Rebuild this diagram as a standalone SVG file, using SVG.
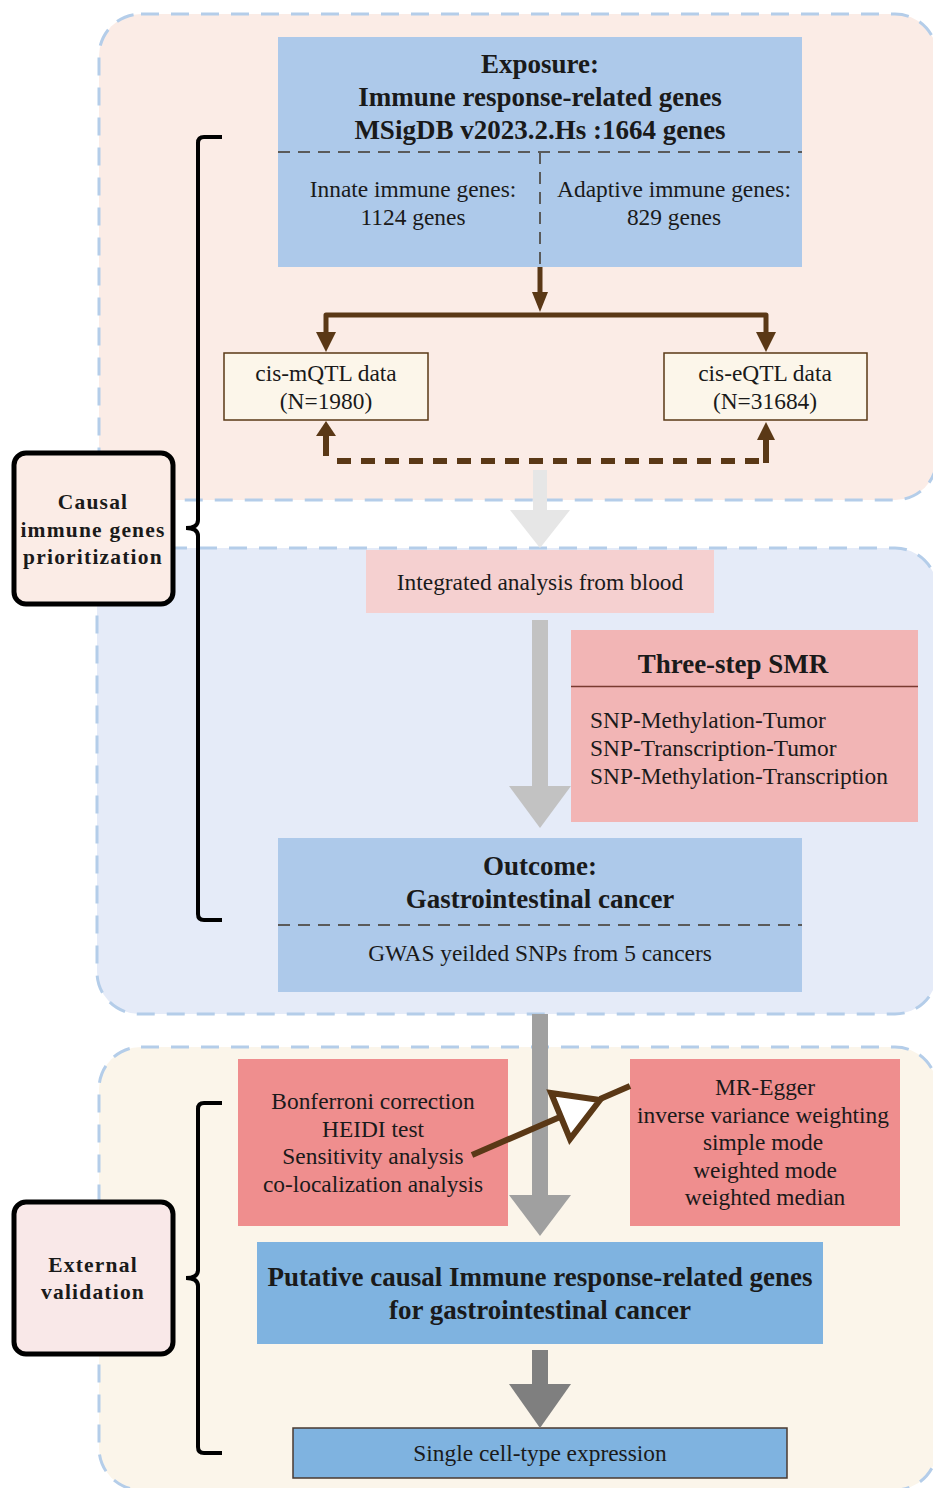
<svg xmlns="http://www.w3.org/2000/svg" width="933" height="1488" viewBox="0 0 933 1488">
<defs>
<style>
text{font-family:"Liberation Serif","Times New Roman",serif;fill:#1a1a1a;text-anchor:middle}
.b{font-weight:bold;font-size:27px}
.n{font-size:23.4px}
.lab{font-weight:bold;font-size:21.5px;letter-spacing:1.2px}
.panel{stroke:#b4cde9;stroke-width:3;stroke-dasharray:18 12}
.brn{stroke:#5a3816;fill:none}
.brace{stroke:#000;stroke-width:4;fill:none}
.dash{stroke:#5a5a5a;stroke-width:2;stroke-dasharray:12 8}
</style>
</defs>

<g id="panels">
<rect class="panel" x="99" y="14" width="838" height="486" rx="42" fill="#fbece6"/>
<rect class="panel" x="97" y="548" width="840" height="466" rx="42" fill="#e5ebf8"/>
<rect class="panel" x="99" y="1047" width="838" height="443" rx="42" fill="#fbf5ea"/>
</g>

<g id="exposure">
<rect x="278" y="37" width="524" height="230" fill="#adc9ea"/>
<line class="dash" x1="278" y1="152" x2="802" y2="152"/>
<line class="dash" x1="540" y1="152" x2="540" y2="267"/>
<text class="b" x="540" y="73">Exposure:</text>
<text class="b" x="540" y="106">Immune response-related genes</text>
<text class="b" x="540" y="139">MSigDB v2023.2.Hs :1664 genes</text>
<text class="n" x="413" y="197">Innate immune genes:</text>
<text class="n" x="413" y="225">1124 genes</text>
<text class="n" x="674" y="197">Adaptive immune genes:</text>
<text class="n" x="674" y="225">829 genes</text>
</g>

<g id="mqtl">
<rect x="224" y="353" width="204" height="67" fill="#fcf6ea" stroke="#5a3816" stroke-width="1.5"/>
<text class="n" x="326" y="381">cis-mQTL data</text>
<text class="n" x="326" y="409">(N=1980)</text>
</g>

<g id="eqtl">
<rect x="664" y="353" width="203" height="67" fill="#fcf6ea" stroke="#5a3816" stroke-width="1.5"/>
<text class="n" x="765" y="381">cis-eQTL data</text>
<text class="n" x="765" y="409">(N=31684)</text>
</g>

<g id="integrated">
<rect x="366" y="550" width="348" height="63" fill="#f5d0d0"/>
<text class="n" x="540" y="590">Integrated analysis from blood</text>
</g>

<g id="smr">
<rect x="571" y="630" width="347" height="192" fill="#f2b5b5"/>
<line x1="571" y1="686.5" x2="918" y2="686.5" stroke="#7a3a30" stroke-width="1.5"/>
<text class="b" x="733" y="673">Three-step SMR</text>
<text class="n" x="590" y="728" style="text-anchor:start">SNP-Methylation-Tumor</text>
<text class="n" x="590" y="756" style="text-anchor:start">SNP-Transcription-Tumor</text>
<text class="n" x="590" y="784" style="text-anchor:start">SNP-Methylation-Transcription</text>
</g>

<g id="outcome">
<rect x="278" y="838" width="524" height="154" fill="#adc9ea"/>
<line class="dash" x1="278" y1="925" x2="802" y2="925"/>
<text class="b" x="540" y="875">Outcome:</text>
<text class="b" x="540" y="908">Gastrointestinal cancer</text>
<text class="n" x="540" y="961">GWAS yeilded SNPs from 5 cancers</text>
</g>

<g id="bonferroni">
<rect x="238" y="1059" width="270" height="167" fill="#ef8e8e"/>
<text class="n" x="373" y="1109">Bonferroni correction</text>
<text class="n" x="373" y="1137">HEIDI test</text>
<text class="n" x="373" y="1164">Sensitivity analysis</text>
<text class="n" x="373" y="1192">co-localization analysis</text>
</g>

<g id="mregger">
<rect x="630" y="1059" width="270" height="167" fill="#ef8e8e"/>
<text class="n" x="765" y="1095">MR-Egger</text>
<text class="n" x="763" y="1123">inverse variance weighting</text>
<text class="n" x="763" y="1150">simple mode</text>
<text class="n" x="765" y="1178">weighted mode</text>
<text class="n" x="765" y="1205">weighted median</text>
</g>

<g id="putative">
<rect x="257" y="1242" width="566" height="102" fill="#7fb3e0"/>
<text class="b" x="540" y="1286">Putative causal Immune response-related genes</text>
<text class="b" x="540" y="1319">for gastrointestinal cancer</text>
</g>

<g id="singlecell">
<rect x="293" y="1428" width="494" height="50" fill="#7fb3e0" stroke="#4a3a30" stroke-width="1.5"/>
<text class="n" x="540" y="1461">Single cell-type expression</text>
</g>

<g id="causal-label">
<path class="brace" d="M222,137 L204,137 Q198,137 198,143 L198,520 Q198,528 186,528 Q198,528 198,536 L198,914 Q198,920 204,920 L222,920"/>
<rect x="14" y="453" width="159" height="151" rx="12" fill="#fbece6" stroke="#000" stroke-width="5"/>
<text class="lab" x="93" y="509">Causal</text>
<text class="lab" x="93" y="537">immune genes</text>
<text class="lab" x="93" y="564">prioritization</text>
</g>

<g id="external-label">
<path class="brace" d="M222,1103 L204,1103 Q198,1103 198,1109 L198,1270 Q198,1278 186,1278 Q198,1278 198,1286 L198,1447 Q198,1453 204,1453 L222,1453"/>
<rect x="14" y="1202" width="159" height="152" rx="12" fill="#f9e8e8" stroke="#000" stroke-width="5"/>
<text class="lab" x="93" y="1272">External</text>
<text class="lab" x="93" y="1299">validation</text>
</g>

<g id="connectors">
<path class="brn" stroke-width="5" d="M540,267 L540,305"/>
<path d="M532,292 L548,292 L540,312 z" fill="#5a3816"/>
<path class="brn" stroke-width="5" stroke-linejoin="round" d="M326,342 L326,315 L766,315 L766,342"/>
<path d="M316,332 L336,332 L326,352 z" fill="#5a3816"/>
<path d="M756,332 L776,332 L766,352 z" fill="#5a3816"/>
<path class="brn" stroke-width="6" d="M326,456 L326,434"/>
<path d="M316,436 L336,436 L326,421 z" fill="#5a3816"/>
<path class="brn" stroke-width="6" stroke-dasharray="14 10" d="M337,461 L768,461"/>
<path class="brn" stroke-width="6" d="M766,463 L766,440"/>
<path d="M757,440 L775,440 L766,422 z" fill="#5a3816"/>
<rect x="533" y="470" width="14" height="42" fill="#e6e6e6"/>
<path d="M510,510 L570,510 L540,548 z" fill="#e6e6e6"/>
<rect x="532" y="620" width="16" height="168" fill="#c2c2c2"/>
<path d="M509,786 L571,786 L540,828 z" fill="#c2c2c2"/>
<rect x="532" y="1014" width="16" height="184" fill="#a0a0a0"/>
<path d="M509,1195 L571,1195 L540,1236 z" fill="#a0a0a0"/>
<rect x="532" y="1350" width="16" height="36" fill="#7f7f7f"/>
<path d="M509,1384 L571,1384 L540,1428 z" fill="#7f7f7f"/>
<path class="brn" stroke-width="6" d="M472,1155 L560,1117"/>
<path class="brn" stroke-width="6" d="M600,1099 L630,1086"/>
<polygon points="551,1093 600,1100 570,1139" fill="#ffffff" stroke="#5a3816" stroke-width="6"/>
</g>
</svg>
